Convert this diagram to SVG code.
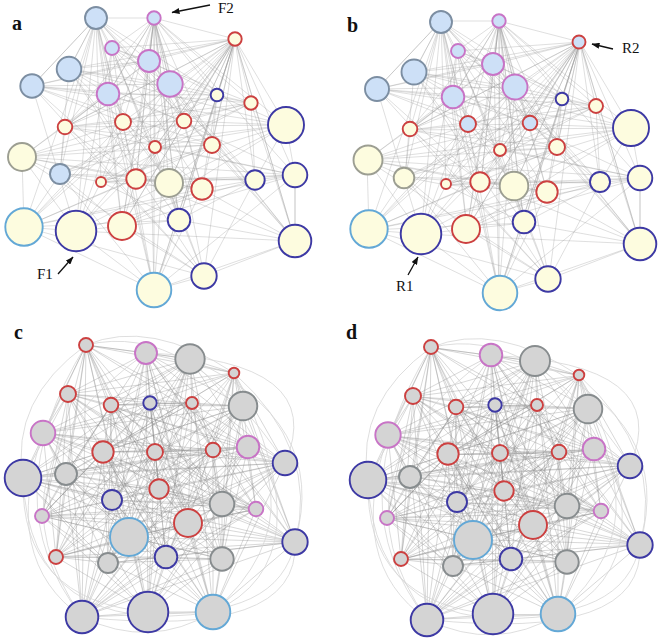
<svg xmlns="http://www.w3.org/2000/svg" xmlns:xlink="http://www.w3.org/1999/xlink" width="660" height="639" viewBox="0 0 660 639">
<style>
.e{fill:none;stroke:#9a9a9a;stroke-opacity:.42;stroke-width:.75;stroke-linejoin:round}
.ec{fill:none;stroke:#8a8a8a;stroke-opacity:.52;stroke-width:.65;stroke-linejoin:round}
.arc{fill:none;stroke:#d6d6d6;stroke-width:.8}
circle{stroke-width:1.9}
.nb{fill:#cde0f7}.ny{fill:#fdfcdf}.ng{fill:#d4d4d4}
.ss{stroke:#7c8ea2}.sp{stroke:#c874c6}.sr{stroke:#cc4040}.sd{stroke:#3d39a4}.sl{stroke:#63a8d6}.sg{stroke:#9c9e92}.sk{stroke:#878c8e}
.pl{font-family:"Liberation Serif","Times New Roman",serif;font-weight:bold;font-size:20px;fill:#111}
.al{font-family:"Liberation Serif","Times New Roman",serif;font-size:15px;fill:#111}
.ar{stroke:#111;stroke-width:1.3;fill:none}
</style>
<defs>
<marker id="ah" markerUnits="userSpaceOnUse" markerWidth="8" markerHeight="6" refX="7.5" refY="3" orient="auto"><path d="M0 0L8 3L0 6z" fill="#111"/></marker>
</defs>
<rect width="660" height="639" fill="#fff"/>
<g id="connectors">
<g id="edgesA">
<path class="e" d="M96 18L154 18L235 39L112 48L149 61L69 69L170 84L32 86L108 94L217 95L251 103L65 127L123 122L184 121L286 125L155 147L212 145L22 157L60 174L101 182L136 179L169 183L202 189L255 180L295 175L24 227L76 231L122 226L179 220L295 241L204 276L154 290Z"/>
<path class="e" d="M96 18L112 48L170 84L217 95L123 122L155 147L60 174L169 183L295 175L122 226L204 276L154 18L149 61L32 86L251 103L184 121L212 145L101 182L202 189L24 227L179 220L154 290L235 39L69 69L108 94L65 127L286 125L22 157L136 179L255 180L76 231L295 241Z"/>
<path class="e" d="M96 18L69 69L251 103L155 147L136 179L24 227L204 276L112 48L108 94L184 121L60 174L255 180L179 220L154 18L170 84L65 127L212 145L169 183L76 231L154 290L149 61L217 95L286 125L101 182L295 175L295 241L235 39L32 86L123 122L22 157L202 189L122 226Z"/>
<path class="e" d="M96 18L32 86L286 125L169 183L179 220L112 48L251 103L22 157L295 175L154 290L170 84L184 121L136 179L122 226L235 39L217 95L212 145L255 180L204 276L69 69L123 122L101 182L76 231L154 18L108 94L155 147L202 189L295 241L149 61L65 127L60 174L24 227Z"/>
<path class="e" d="M96 18L217 95L60 174L122 226L149 61L184 121L202 189L154 290L108 94L22 157L76 231L112 48L123 122L169 183L204 276L32 86L212 145L24 227L235 39L65 127L136 179L295 241L170 84L155 147L295 175L154 18L251 103L101 182L179 220L69 69L286 125L255 180Z"/>
<path class="e" d="M96 18L184 121L76 231L32 86L136 179L154 18L286 125L122 226L108 94L169 183L235 39L155 147L179 220L217 95L202 189L112 48L212 145L295 241L251 103L255 180L149 61L22 157L204 276L65 127L295 175L69 69L60 174L154 290L123 122L24 227L170 84L101 182Z"/>
<path class="e" d="M235 39L251 103M235 39L286 125M235 39L217 95M235 39L212 145M235 39L202 189M235 39L255 180M235 39L295 175M235 39L295 241M235 39L169 183M235 39L136 179M235 39L155 147M235 39L184 121M235 39L170 84M235 39L149 61M235 39L65 127M235 39L76 231M235 39L122 226M235 39L179 220M235 39L204 276M235 39L123 122M235 39L101 182M235 39L154 290"/>
<path class="e" d="M154 18L112 48M154 18L149 61M154 18L170 84M154 18L108 94M154 18L123 122M154 18L155 147M154 18L136 179M154 18L169 183M154 18L122 226M154 18L179 220M154 18L154 290M154 18L217 95M154 18L184 121M154 18L212 145M154 18L65 127M154 18L202 189"/>
<path class="e" d="M96 18L69 69M96 18L32 86M96 18L108 94M96 18L123 122M96 18L65 127M96 18L60 174M96 18L136 179M96 18L76 231M96 18L149 61M96 18L155 147M24 227L154 290L295 241M22 157L24 227M286 125L295 175L295 241"/>
</g>
<use href="#edgesA" xlink:href="#edgesA" transform="translate(345,3)"/>
<g id="edgesC">
<path class="ec" d="M86 345L146 353L190 359L234 373L68 394L111 405L150 403L192 403L243 406L43 433L103 452L155 452L213 450L248 447L285 463L23 478L66 474L159 489L112 500L222 504L256 509L42 516L188 523L129 537L295 542L56 557L108 563L166 557L222 559L82 617L148 612L213 612Z"/>
<path class="ec" d="M86 345L234 373L150 403L43 433L213 450L23 478L112 500L42 516L295 542L166 557L148 612L146 353L68 394L192 403L103 452L248 447L66 474L222 504L188 523L56 557L222 559L213 612L190 359L111 405L243 406L155 452L285 463L159 489L256 509L129 537L108 563L82 617Z"/>
<path class="ec" d="M86 345L111 405L103 452L23 478L256 509L56 557L148 612L234 373L243 406L248 447L112 500L129 537L222 559L146 353L150 403L155 452L66 474L42 516L108 563L213 612L68 394L43 433L285 463L222 504L295 542L82 617L190 359L192 403L213 450L159 489L188 523L166 557Z"/>
<path class="ec" d="M86 345L192 403L285 463L42 516L222 559L234 373L103 452L159 489L295 542L213 612L150 403L248 447L256 509L166 557L190 359L43 433L66 474L129 537L148 612L111 405L213 450L222 504L108 563L146 353L243 406L23 478L188 523L82 617L68 394L155 452L112 500L56 557Z"/>
<path class="ec" d="M86 345L43 433L112 500L166 557L68 394L248 447L188 523L213 612L243 406L159 489L108 563L234 373L213 450L42 516L148 612L192 403L66 474L56 557L190 359L155 452L256 509L82 617L150 403L23 478L295 542L146 353L103 452L222 504L222 559L111 405L285 463L129 537Z"/>
<path class="ec" d="M86 345L155 452L188 523L146 353L213 450L129 537L190 359L248 447L295 542L234 373L285 463L56 557L68 394L23 478L108 563L111 405L66 474L166 557L150 403L159 489L222 559L192 403L112 500L82 617L243 406L222 504L148 612L43 433L256 509L213 612L103 452L42 516Z"/>
<path class="ec" d="M86 345L248 447L108 563L192 403L256 509L146 353L285 463L166 557L243 406L42 516L190 359L23 478L222 559L43 433L188 523L234 373L66 474L82 617L103 452L129 537L68 394L159 489L148 612L155 452L295 542L111 405L112 500L213 612L213 450L56 557L150 403L222 504Z"/>
<path class="ec" d="M86 345L23 478L148 612L248 447L222 559L155 452L108 563L43 433L295 542L192 403L188 523L111 405L256 509L234 373L112 500L146 353L66 474L213 612L285 463L82 617L213 450L166 557L103 452L56 557L243 406L129 537L150 403L42 516L68 394L222 504L190 359L159 489Z"/>
<path class="ec" d="M86 345L190 359L68 394L150 403L243 406L103 452L213 450L285 463L66 474L112 500L256 509L188 523L295 542L108 563L222 559L148 612ZM146 353L234 373L111 405L192 403L43 433L155 452L248 447L23 478L159 489L222 504L42 516L129 537L56 557L166 557L82 617L213 612Z"/>
<path class="ec" d="M86 345L66 474M146 353L159 489M190 359L112 500M234 373L222 504M68 394L256 509M111 405L42 516M150 403L188 523M192 403L129 537M243 406L295 542M43 433L56 557M103 452L108 563M155 452L166 557M213 450L222 559M248 447L82 617M285 463L148 612M23 478L213 612"/>
<path class="arc" d="M86 345Q150 318 234 373M86 345Q10 400 23 478M86 345Q-10 500 82 617M146 353Q-20 470 82 617M190 359Q330 420 295 542M234 373Q320 450 295 542M234 373Q330 560 213 612M190 359Q340 500 213 612M23 478Q20 600 148 612M82 617Q150 650 213 612M295 542Q280 620 148 612M43 433Q0 560 82 617M146 353Q330 360 285 463M86 345Q190 320 285 463M23 478Q30 640 213 612M295 542Q300 640 82 617"/>
</g>
<use href="#edgesC" xlink:href="#edgesC" transform="translate(345,2.5)"/>
</g>
<g id="panel-a">
<g id="a-n1"><circle cx="96" cy="18" r="11" class="nb ss"/></g>
<g id="a-n2"><circle cx="154" cy="18" r="6.7" class="nb sp"/></g>
<g id="a-n3"><circle cx="235" cy="39" r="6.7" class="ny sr"/></g>
<g id="a-n4"><circle cx="112" cy="48" r="7" class="nb sp"/></g>
<g id="a-n5"><circle cx="149" cy="61" r="11" class="nb sp"/></g>
<g id="a-n6"><circle cx="69" cy="69" r="12.3" class="nb ss"/></g>
<g id="a-n7"><circle cx="170" cy="84" r="12.7" class="nb sp"/></g>
<g id="a-n8"><circle cx="32" cy="86" r="11.7" class="nb ss"/></g>
<g id="a-n9"><circle cx="108" cy="94" r="11.3" class="nb sp"/></g>
<g id="a-n10"><circle cx="217" cy="95" r="6.3" class="ny sd"/></g>
<g id="a-n11"><circle cx="251" cy="103" r="6.7" class="ny sr"/></g>
<g id="a-n12"><circle cx="65" cy="127" r="7.3" class="ny sr"/></g>
<g id="a-n13"><circle cx="123" cy="122" r="8" class="ny sr"/></g>
<g id="a-n14"><circle cx="184" cy="121" r="7.3" class="ny sr"/></g>
<g id="a-n15"><circle cx="286" cy="125" r="18" class="ny sd"/></g>
<g id="a-n16"><circle cx="155" cy="147" r="6" class="ny sr"/></g>
<g id="a-n17"><circle cx="212" cy="145" r="8" class="ny sr"/></g>
<g id="a-n18"><circle cx="22" cy="157" r="14" class="ny sg"/></g>
<g id="a-n19"><circle cx="60" cy="174" r="10" class="nb ss"/></g>
<g id="a-n20"><circle cx="101" cy="182" r="5" class="ny sr"/></g>
<g id="a-n21"><circle cx="136" cy="179" r="9.7" class="ny sr"/></g>
<g id="a-n22"><circle cx="169" cy="183" r="14" class="ny sg"/></g>
<g id="a-n23"><circle cx="202" cy="189" r="10.7" class="ny sr"/></g>
<g id="a-n24"><circle cx="255" cy="180" r="9.7" class="ny sd"/></g>
<g id="a-n25"><circle cx="295" cy="175" r="12.3" class="ny sd"/></g>
<g id="a-n26"><circle cx="24" cy="227" r="18.7" class="ny sl"/></g>
<g id="a-n27"><circle cx="76" cy="231" r="20.3" class="ny sd"/></g>
<g id="a-n28"><circle cx="122" cy="226" r="14" class="ny sr"/></g>
<g id="a-n29"><circle cx="179" cy="220" r="11.3" class="ny sd"/></g>
<g id="a-n30"><circle cx="295" cy="241" r="16.3" class="ny sd"/></g>
<g id="a-n31"><circle cx="204" cy="276" r="12.7" class="ny sd"/></g>
<g id="a-n32"><circle cx="154" cy="290" r="17.3" class="ny sl"/></g>
</g>
<g id="panel-b">
<g id="b-n1"><circle cx="441" cy="22" r="11" class="nb ss"/></g>
<g id="b-n2"><circle cx="499" cy="21" r="6.7" class="nb sp"/></g>
<g id="b-n3"><circle cx="579" cy="42" r="6.5" class="nb sr"/></g>
<g id="b-n4"><circle cx="458" cy="51" r="7" class="nb sp"/></g>
<g id="b-n5"><circle cx="493" cy="64" r="11" class="nb sp"/></g>
<g id="b-n6"><circle cx="414" cy="72" r="12.5" class="nb ss"/></g>
<g id="b-n7"><circle cx="515" cy="87" r="12.5" class="nb sp"/></g>
<g id="b-n8"><circle cx="377" cy="89" r="12" class="nb ss"/></g>
<g id="b-n9"><circle cx="453" cy="97" r="11.3" class="nb sp"/></g>
<g id="b-n10"><circle cx="562" cy="99" r="6.3" class="ny sd"/></g>
<g id="b-n11"><circle cx="596" cy="106" r="7" class="ny sr"/></g>
<g id="b-n12"><circle cx="410" cy="129" r="7.3" class="ny sr"/></g>
<g id="b-n13"><circle cx="468" cy="124" r="8" class="nb sr"/></g>
<g id="b-n14"><circle cx="530" cy="123" r="7.3" class="nb sr"/></g>
<g id="b-n15"><circle cx="631" cy="128" r="18" class="ny sd"/></g>
<g id="b-n16"><circle cx="500" cy="150" r="6" class="ny sr"/></g>
<g id="b-n17"><circle cx="557" cy="147" r="8" class="ny sr"/></g>
<g id="b-n18"><circle cx="368" cy="160" r="14.5" class="ny sg"/></g>
<g id="b-n19"><circle cx="404" cy="178" r="10.3" class="ny sg"/></g>
<g id="b-n20"><circle cx="446" cy="184" r="5" class="ny sr"/></g>
<g id="b-n21"><circle cx="480" cy="182" r="9.7" class="ny sr"/></g>
<g id="b-n22"><circle cx="514" cy="186" r="14.3" class="ny sg"/></g>
<g id="b-n23"><circle cx="547" cy="192" r="10.7" class="ny sr"/></g>
<g id="b-n24"><circle cx="600" cy="182" r="10" class="ny sd"/></g>
<g id="b-n25"><circle cx="640" cy="178" r="12.3" class="ny sd"/></g>
<g id="b-n26"><circle cx="369" cy="229" r="18.7" class="ny sl"/></g>
<g id="b-n27"><circle cx="421" cy="234" r="20.3" class="ny sd"/></g>
<g id="b-n28"><circle cx="466" cy="229" r="14" class="ny sr"/></g>
<g id="b-n29"><circle cx="524" cy="222" r="11.3" class="ny sd"/></g>
<g id="b-n30"><circle cx="640" cy="244" r="16.3" class="ny sd"/></g>
<g id="b-n31"><circle cx="548" cy="279" r="12.7" class="ny sd"/></g>
<g id="b-n32"><circle cx="500" cy="293" r="17.3" class="ny sl"/></g>
</g>
<g id="panel-c">
<g id="c-n1"><circle cx="86" cy="345" r="7" class="ng sr"/></g>
<g id="c-n2"><circle cx="146" cy="353" r="11" class="ng sp"/></g>
<g id="c-n3"><circle cx="190" cy="359" r="14.7" class="ng sk"/></g>
<g id="c-n4"><circle cx="234" cy="373" r="5.3" class="ng sr"/></g>
<g id="c-n5"><circle cx="68" cy="394" r="8" class="ng sr"/></g>
<g id="c-n6"><circle cx="111" cy="405" r="7.3" class="ng sr"/></g>
<g id="c-n7"><circle cx="150" cy="403" r="6.7" class="ng sd"/></g>
<g id="c-n8"><circle cx="192" cy="403" r="6" class="ng sr"/></g>
<g id="c-n9"><circle cx="243" cy="406" r="14.3" class="ng sk"/></g>
<g id="c-n10"><circle cx="43" cy="433" r="12.3" class="ng sp"/></g>
<g id="c-n11"><circle cx="103" cy="452" r="10.7" class="ng sr"/></g>
<g id="c-n12"><circle cx="155" cy="452" r="8" class="ng sr"/></g>
<g id="c-n13"><circle cx="213" cy="450" r="7.3" class="ng sr"/></g>
<g id="c-n14"><circle cx="248" cy="447" r="11.3" class="ng sp"/></g>
<g id="c-n15"><circle cx="285" cy="463" r="12.3" class="ng sd"/></g>
<g id="c-n16"><circle cx="23" cy="478" r="18.3" class="ng sd"/></g>
<g id="c-n17"><circle cx="66" cy="474" r="11" class="ng sk"/></g>
<g id="c-n18"><circle cx="159" cy="489" r="9.7" class="ng sr"/></g>
<g id="c-n19"><circle cx="112" cy="500" r="10" class="ng sd"/></g>
<g id="c-n20"><circle cx="222" cy="504" r="12.3" class="ng sk"/></g>
<g id="c-n21"><circle cx="256" cy="509" r="7.3" class="ng sp"/></g>
<g id="c-n22"><circle cx="42" cy="516" r="7" class="ng sp"/></g>
<g id="c-n23"><circle cx="188" cy="523" r="14" class="ng sr"/></g>
<g id="c-n24"><circle cx="129" cy="537" r="19" class="ng sl"/></g>
<g id="c-n25"><circle cx="295" cy="542" r="12.7" class="ng sd"/></g>
<g id="c-n26"><circle cx="56" cy="557" r="7" class="ng sr"/></g>
<g id="c-n27"><circle cx="108" cy="563" r="10" class="ng sk"/></g>
<g id="c-n28"><circle cx="166" cy="557" r="11.3" class="ng sd"/></g>
<g id="c-n29"><circle cx="222" cy="559" r="11.7" class="ng sk"/></g>
<g id="c-n30"><circle cx="82" cy="617" r="16.3" class="ng sd"/></g>
<g id="c-n31"><circle cx="148" cy="612" r="20.3" class="ng sd"/></g>
<g id="c-n32"><circle cx="213" cy="612" r="17.3" class="ng sl"/></g>
</g>
<g id="panel-d">
<g id="d-n1"><circle cx="431" cy="347" r="7" class="ng sr"/></g>
<g id="d-n2"><circle cx="491" cy="355" r="11.3" class="ng sp"/></g>
<g id="d-n3"><circle cx="535" cy="361" r="15" class="ng sk"/></g>
<g id="d-n4"><circle cx="579" cy="375" r="5.3" class="ng sr"/></g>
<g id="d-n5"><circle cx="413" cy="396" r="8" class="ng sr"/></g>
<g id="d-n6"><circle cx="456" cy="407" r="7.3" class="ng sr"/></g>
<g id="d-n7"><circle cx="495" cy="405" r="6.7" class="ng sd"/></g>
<g id="d-n8"><circle cx="537" cy="405" r="6" class="ng sr"/></g>
<g id="d-n9"><circle cx="588" cy="409" r="14.3" class="ng sk"/></g>
<g id="d-n10"><circle cx="388" cy="435" r="12.7" class="ng sp"/></g>
<g id="d-n11"><circle cx="448" cy="454" r="10.7" class="ng sr"/></g>
<g id="d-n12"><circle cx="500" cy="453" r="8" class="ng sr"/></g>
<g id="d-n13"><circle cx="559" cy="452" r="7.3" class="ng sr"/></g>
<g id="d-n14"><circle cx="594" cy="449" r="11.3" class="ng sp"/></g>
<g id="d-n15"><circle cx="630" cy="466" r="12.3" class="ng sd"/></g>
<g id="d-n16"><circle cx="368" cy="480" r="18.3" class="ng sd"/></g>
<g id="d-n17"><circle cx="410" cy="477" r="11" class="ng sk"/></g>
<g id="d-n18"><circle cx="504" cy="491" r="9.7" class="ng sr"/></g>
<g id="d-n19"><circle cx="457" cy="502" r="10" class="ng sd"/></g>
<g id="d-n20"><circle cx="567" cy="506" r="12.3" class="ng sk"/></g>
<g id="d-n21"><circle cx="601" cy="511" r="7.3" class="ng sp"/></g>
<g id="d-n22"><circle cx="387" cy="518" r="7" class="ng sp"/></g>
<g id="d-n23"><circle cx="533" cy="525" r="14" class="ng sr"/></g>
<g id="d-n24"><circle cx="473" cy="540" r="19" class="ng sl"/></g>
<g id="d-n25"><circle cx="640" cy="545" r="12.7" class="ng sd"/></g>
<g id="d-n26"><circle cx="401" cy="559" r="7" class="ng sr"/></g>
<g id="d-n27"><circle cx="453" cy="566" r="10" class="ng sk"/></g>
<g id="d-n28"><circle cx="511" cy="559" r="11.3" class="ng sd"/></g>
<g id="d-n29"><circle cx="567" cy="562" r="11.7" class="ng sk"/></g>
<g id="d-n30"><circle cx="427" cy="620" r="16.3" class="ng sd"/></g>
<g id="d-n31"><circle cx="493" cy="614" r="20.3" class="ng sd"/></g>
<g id="d-n32"><circle cx="558" cy="614" r="17.3" class="ng sl"/></g>
</g>
<g id="annotations">
<text class="pl" x="12" y="30">a</text>
<text class="pl" x="347" y="32">b</text>
<text class="pl" x="14" y="339">c</text>
<text class="pl" x="346" y="339">d</text>
<line class="ar" x1="210" y1="5" x2="172" y2="12.5" marker-end="url(#ah)"/>
<text class="al" x="218" y="13">F2</text>
<line class="ar" x1="58" y1="274" x2="73" y2="257" marker-end="url(#ah)"/>
<text class="al" x="37" y="279">F1</text>
<line class="ar" x1="408" y1="275" x2="418" y2="257" marker-end="url(#ah)"/>
<text class="al" x="396" y="291">R1</text>
<line class="ar" x1="613" y1="49" x2="592" y2="44" marker-end="url(#ah)"/>
<text class="al" x="622" y="53">R2</text>
</g>
</svg>
